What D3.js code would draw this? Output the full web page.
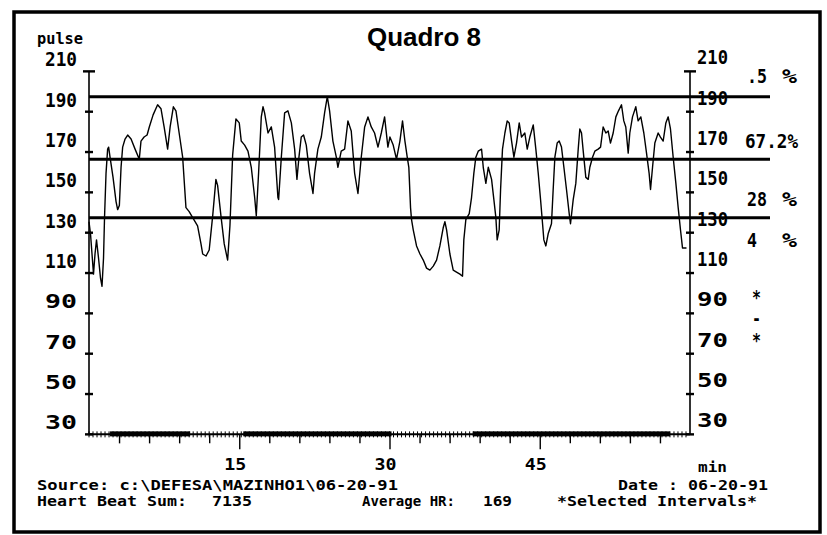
<!DOCTYPE html>
<html><head><meta charset="utf-8">
<script src="https://cdn.jsdelivr.net/npm/d3@7"></script>
<style>body{margin:0;background:#fff}svg{display:block}</style>
</head><body><svg id="c" width="827" height="535"></svg>
<script>
// ---------- DATA ----------
const title = "Quadro 8";
const minutes = [0.0,0.15,0.3,0.45,0.6,0.75,0.95,1.15,1.3,1.45,1.55,1.7,1.86,1.96,2.1,2.4,2.7,2.86,3.03,3.2,3.36,3.6,3.86,4.2,4.6,5.02,5.19,5.5,5.8,6.02,6.4,6.85,7.19,7.5,7.85,8.1,8.42,8.68,9.0,9.35,9.68,10.0,10.35,10.84,11.18,11.35,11.68,12.0,12.35,12.67,12.84,13.17,13.5,13.84,14.07,14.34,14.67,15.0,
15.2,15.54,15.87,16.2,16.54,16.7,16.93,17.2,17.37,17.53,17.87,18.2,18.53,18.86,18.93,19.2,19.53,19.86,20.2,20.53,20.76,20.96,21.19,21.42,21.69,22.02,22.36,22.52,22.85,23.19,23.52,23.79,24.02,24.35,24.69,24.85,25.18,25.52,25.85,26.18,26.52,26.85,27.18,27.52,27.85,28.18,28.51,28.85,29.18,29.51,29.84,
30.04,30.37,30.7,31.04,31.3,31.54,31.77,31.93,32.1,32.2,32.37,32.7,33.04,33.37,33.7,34.03,34.37,34.7,35.03,35.36,35.53,35.7,36.03,36.36,36.69,37.03,37.29,37.42,37.62,37.96,38.19,38.42,38.62,38.86,39.19,39.36,39.62,39.86,40.19,40.42,40.62,40.75,40.95,41.09,41.28,41.52,41.75,41.95,42.19,42.42,42.68,42.95,43.18,43.51,43.75,44.01,44.35,44.61,44.85,45.08,45.28,45.41,
45.61,45.84,46.17,46.34,46.51,46.74,46.94,47.17,47.41,47.67,47.94,48.07,48.34,48.6,48.84,49.0,49.17,49.34,49.6,49.84,50.0,50.27,50.5,50.83,51.07,51.33,51.6,51.83,52.06,52.33,52.6,52.86,53.16,53.39,53.59,53.83,53.99,54.26,54.59,54.82,55.09,55.39,55.66,55.92,56.06,56.26,56.49,56.82,57.05,57.32,57.59,57.82,58.05,58.32,58.59,58.82,59.05,59.25,59.65];
const pulse = [128,122,112,102,112,119,110,100,96,110,130,152,164,165,160,150,138,134,136,155,165,169,171,169,164,159,168,170,171,175,181,186,184,175,164,175,185,183,172,160,135,133,130,126,117,112,111,114,131,149,146,131,117,109,126,161,179,177,
168,166,163,155,140,131,152,180,185,182,172,175,165,140,139,160,182,183,177,164,149,160,170,171,166,152,142,152,164,170,182,190,183,168,160,155,163,164,178,173,152,142,160,175,180,175,172,165,172,180,165,
170,166,159,168,178,168,160,155,135,129,124,116,112,109,105,104,106,109,116,125,128,124,112,104,103,102,101,119,129,132,140,152,160,163,164,155,147,155,149,139,130,119,124,144,164,172,178,177,168,160,167,177,170,172,164,170,176,164,152,139,127,119,
116,122,127,144,160,167,168,165,155,144,132,127,139,147,164,174,172,163,150,149,155,160,163,164,165,175,172,173,167,172,180,183,186,178,175,162,172,180,185,178,180,172,162,152,144,155,167,172,170,168,177,180,174,160,147,135,124,115,115];
const yTickValues = [210,190,170,150,130,110,90,70,50,30];
const xTickLabels = [15,30,45];
const zoneLimits = [190,159,130];
const zonePercents = [".5","67.2","28","4"];
const selectedIntervals = [[2.1,10.1],[15.4,30.2],[38.3,58.0]];
const sourceText = "Source:  c:\\DEFESA\\MAZINHO1\\06-20-91";
const beatSumLabel = "Heart Beat Sum:", beatSum = "7135";
const avgLabel = "Average HR:", avgHR = "169";
const dateText = "Date : 06-20-91";
const selText = "*Selected Intervals*";

// ---------- LAYOUT ----------
const svg = d3.select("#c");
const mono = "'DejaVu Sans Mono', 'Liberation Mono', monospace";
const x = d3.scaleLinear().domain([0,60]).range([89,690]);
const y = d3.scaleLinear().domain([130,190]).range([217.7,96.7]);
const TICK_OFF = 15;
const yTick = v => y(v) + TICK_OFF;

function txt(s, px, py, size, len, anchor) {
  const t = svg.append("text").attr("x", px).attr("y", py)
    .attr("font-family", mono).attr("font-weight", "bold")
    .attr("font-size", size).attr("fill", "#000")
    .attr("text-anchor", anchor || "start").text(s);
  if (len) t.attr("textLength", len).attr("lengthAdjust", "spacingAndGlyphs");
  return t;
}

// frame
svg.append("rect").attr("x",14).attr("y",12).attr("width",806).attr("height",520)
  .attr("fill","none").attr("stroke","#000").attr("stroke-width",3.5);

// title
svg.append("text").attr("x",424).attr("y",46).attr("text-anchor","middle")
  .attr("font-family","'Liberation Sans', Arial, sans-serif").attr("font-weight","bold")
  .attr("font-size",26).text(title);

// vertical axes
[89, 690].forEach(ax => {
  svg.append("line").attr("x1",ax).attr("x2",ax).attr("y1",yTick(210)).attr("y2",yTick(30))
    .attr("stroke","#000").attr("stroke-width",1.6);
  svg.selectAll(null).data(yTickValues).enter().append("line")
    .attr("x1", d => ax - (d===210?6:4)).attr("x2", d => ax + (d===210?6:4))
    .attr("y1", d => yTick(d)).attr("y2", d => yTick(d))
    .attr("stroke","#000").attr("stroke-width",2.4);
});

// y labels
svg.selectAll(null).data(yTickValues).enter().append("text")
  .attr("x",77).attr("y", d => y(d) + 3).attr("dy","0.36em").attr("text-anchor","end")
  .attr("font-family",mono).attr("font-weight","bold").attr("font-size",19)
  .attr("textLength",32).attr("lengthAdjust","spacingAndGlyphs").text(d => d);
svg.selectAll(null).data(yTickValues).enter().append("text")
  .attr("x",697).attr("y", d => y(d) + 1).attr("dy","0.36em")
  .attr("font-family",mono).attr("font-weight","bold").attr("font-size",19)
  .attr("textLength",31).attr("lengthAdjust","spacingAndGlyphs").text(d => d);

txt("pulse", 37, 44, 15, 46);

// zone lines
svg.selectAll(null).data(zoneLimits).enter().append("line")
  .attr("x1",89).attr("x2",770).attr("y1",d=>y(d)).attr("y2",d=>y(d))
  .attr("stroke","#000").attr("stroke-width",3);

// zone percents
const pctAnchor = [200,168,139.3,119];
zonePercents.forEach((p,i) => {
  const yy = y(pctAnchor[i]);
  if (p.length > 3) {
    txt(p + "%", 745, yy, 19, 53).attr("dy","0.36em");
  } else {
    txt(p, 747, yy, 19, p.length*10).attr("dy","0.36em");
    txt("%", 782, yy, 19, 15).attr("dy","0.36em");
  }
});
txt("*", 752, 297, 19, 9).attr("dy","0.36em");
txt("-", 752, 318, 19, 9).attr("dy","0.36em");
txt("*", 752, 340, 19, 9).attr("dy","0.36em");

// x axis
const baseY = yTick(30);
svg.append("line").attr("x1",89).attr("x2",690).attr("y1",baseY).attr("y2",baseY)
  .attr("stroke","#000").attr("stroke-width",2);
svg.selectAll(null).data(selectedIntervals).enter().append("rect")
  .attr("x",d=>x(d[0])).attr("width",d=>x(d[1])-x(d[0]))
  .attr("y",baseY-3).attr("height",5).attr("fill","#000");
svg.selectAll(null).data(d3.range(0,60,0.4)).enter().append("line")
  .attr("x1",d=>x(d)).attr("x2",d=>x(d)).attr("y1",baseY-3).attr("y2",baseY+3)
  .attr("stroke","#000").attr("stroke-width",1);
const xAxis = d3.axisBottom(x).tickValues(d3.range(3,60,3)).tickSize(9).tickFormat("");
const gx = svg.append("g").attr("transform",`translate(0,${baseY})`).call(xAxis);
gx.select(".domain").remove();
gx.selectAll(".tick line").attr("stroke","#000").attr("stroke-width",1.4)
  .attr("y2", d => xTickLabels.includes(d) ? 15 : 9);
svg.selectAll(null).data(xTickLabels).enter().append("text")
  .attr("x",d=>x(d)-4).attr("y",470).attr("text-anchor","middle")
  .attr("font-family",mono).attr("font-weight","bold").attr("font-size",16)
  .attr("textLength",22).attr("lengthAdjust","spacingAndGlyphs").text(d=>d);
txt("min", 698, 472, 14, 29);

// trace
const line = d3.line().x((d,i)=>x(minutes[i])).y(d=>y(d));
svg.append("path").datum(pulse).attr("d",line).attr("fill","none")
  .attr("stroke","#000").attr("stroke-width",1.4).attr("stroke-linejoin","round");

// footer
const FS = 14.5;
txt(sourceText, 37, 490, FS, 361);
txt(beatSumLabel, 37, 506, FS, 150);
txt(beatSum, 212, 506, FS, 40);
txt(avgLabel, 362, 506, FS, 93);
txt(avgHR, 483, 506, FS, 29);
txt(dateText, 618, 490, FS, 150);
txt(selText, 557, 506, FS, 200);
</script></body></html>
